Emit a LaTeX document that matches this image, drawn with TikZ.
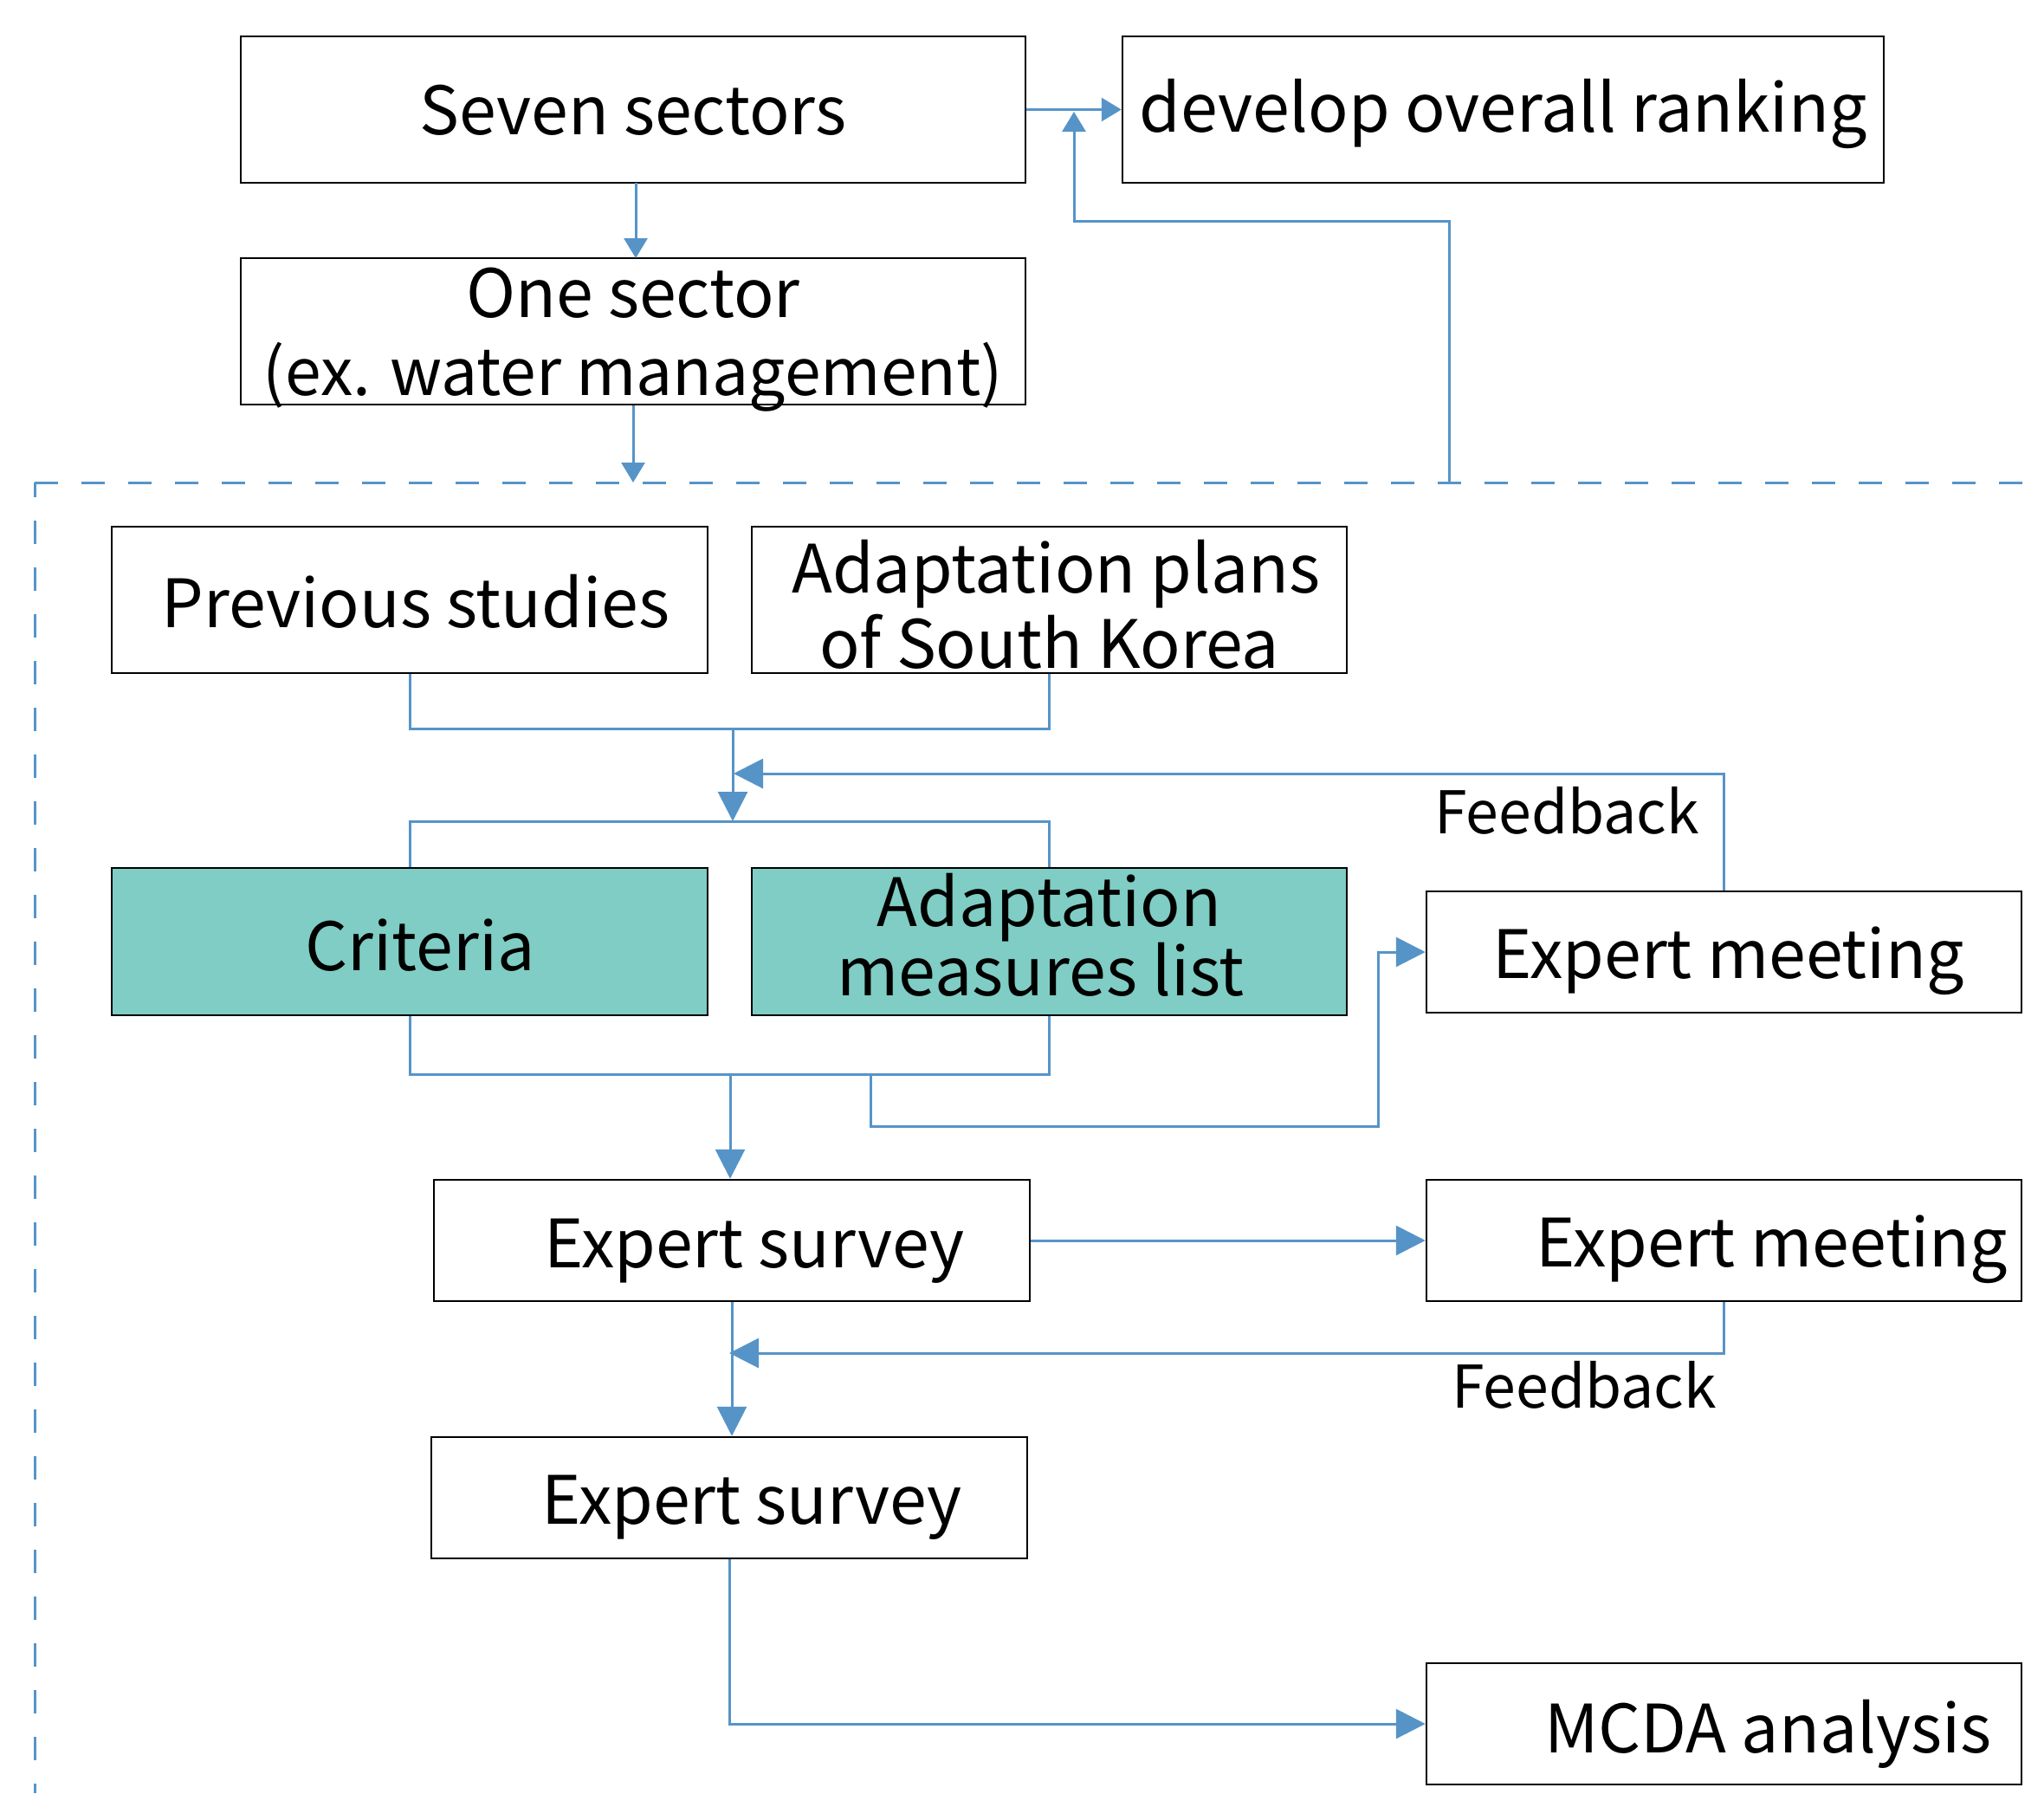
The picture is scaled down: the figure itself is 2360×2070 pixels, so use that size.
\documentclass[tikz,border=0pt]{standalone}
\usepackage{fontspec}
\setmainfont{Noto Sans CJK JP}
\usetikzlibrary{arrows.meta}

\definecolor{flowblue}{RGB}{86,148,200}
\definecolor{tealfill}{RGB}{127,205,196}

\tikzset{
  box/.style={draw=black, line width=2.5pt, fill=white, inner sep=0pt,
    minimum width=688pt, minimum height=169pt},
  lowbox/.style={box, minimum height=140pt},
  keybox/.style={box, fill=tealfill},
  boxtext/.style={inner sep=0pt, align=center, font=\fontsize{77}{78}\selectfont},
  flow/.style={draw=flowblue, line width=3pt},
  arrsmall/.style={flow, -{Triangle[length=23pt, width=27pt]}},
  arrbig/.style={flow, -{Triangle[length=34pt, width=34pt]}},
  fblabel/.style={inner sep=0pt, anchor=base, font=\fontsize{68}{68}\selectfont},
  frame/.style={draw=flowblue, line width=3pt, dash pattern=on 27pt off 27pt}
}

\begin{document}
\begin{tikzpicture}[x=1pt, y=-1pt]
  \useasboundingbox (0,0) rectangle (2360,2070);

  % sector level
  \node[box, minimum width=906pt,
    label={[boxtext, yshift=-1pt]center:Seven sectors}] (seven) at (731,126.5) {};
  \node[box, minimum width=879pt,
    label={[boxtext, yshift=-5pt]center:develop overall ranking}] (rank) at (1735.5,126.5) {};
  \node[box, minimum width=906pt,
    label={[boxtext, yshift=-10pt]center:{One sector\\[12pt]{\fontsize{75}{78}\selectfont(ex. water management)}}}] (one) at (731,382.5) {};

  % dashed frame around the per-sector procedure
  \draw[frame] (40,557) -- (2360,557);
  \draw[frame, dash phase=10pt] (40,557) -- (40,2070);
  \coordinate (dashin) at (731,557);
  \coordinate (fbtop) at (1673,557);

  % inputs
  \node[box, label={[boxtext, yshift=-2pt]center:{\hspace*{14pt}Previous studies}}] (prev) at (473,692.5) {};
  \node[box, minimum width=687pt,
    label={[boxtext, yshift=-5pt]center:{\hspace*{16pt}Adaptation plans\\[6pt]of South Korea}}] (plans) at (1211.5,692.5) {};

  % outputs of the review
  \node[keybox, minimum height=170pt,
    label={[boxtext, yshift=-4pt]center:{\hspace*{24pt}Criteria}}] (crit) at (473,1087) {};
  \node[keybox, minimum width=687pt, minimum height=170pt,
    label={[boxtext, yshift=8pt]center:{Adaptation\\[0pt]measures list\hspace*{20pt}}}] (meas) at (1211.5,1087) {};

  % expert rounds
  \node[lowbox, minimum width=687pt,
    label={[boxtext, yshift=-10pt]center:{\hspace*{10pt}Expert meeting}}] (meet1) at (1990.5,1099) {};
  \node[lowbox, label={[boxtext, yshift=-12pt]center:{\hspace*{52pt}Expert survey}}] (surv1) at (845,1432) {};
  \node[lowbox, minimum width=687pt,
    label={[boxtext, yshift=-10pt]center:{\hspace*{110pt}Expert meeting}}] (meet2) at (1990.5,1432) {};
  \node[lowbox, label={[boxtext, yshift=-11pt]center:{\hspace*{52pt}Expert survey}}] (surv2) at (842,1729) {};
  \node[lowbox, minimum width=687pt,
    label={[boxtext, yshift=-12pt]center:{\hspace*{102pt}MCDA analysis}}] (mcda) at (1990.5,1990) {};

  % junction points
  \coordinate (j1) at (846,841);
  \coordinate (j2) at (846,948);
  \coordinate (fb1) at (847,893);
  \coordinate (j3) at (843,1240);
  \coordinate (j4) at (1005,1240);
  \coordinate (fb2) at (842,1562);

  % top part
  \draw[arrsmall] (seven.east) -- (rank.west);
  \draw[arrsmall] (fbtop) -- (1673,255) -| (1240,129);
  \draw[arrsmall] (734,211) -- (734,298);
  \draw[arrsmall] (one.south) -- (dashin);

  % inputs merge
  \draw[flow] (prev.south) |- (j1) -| (plans.south);
  \draw[arrbig] (j1) -- (j2);
  \draw[arrbig] (meet1.north) |- (fb1);
  \node[fblabel] (fbl1) at (1809,962) {Feedback};

  % fan out to criteria and measures
  \draw[flow] (crit.north) |- (j2) -| (meas.north);

  % merge to survey and meeting
  \draw[flow] (crit.south) |- (j3) -| (meas.south);
  \draw[arrbig] (j3) -- (j3 |- surv1.north);
  \draw[arrbig] (j4) |- (1591,1300) |- (meet1.west);

  % survey rounds
  \draw[arrbig] (surv1.east) -- (meet2.west);
  \draw[arrbig] (meet2.south) |- (fb2);
  \node[fblabel] (fbl2) at (1829,1625) {Feedback};
  \draw[arrbig] (surv1.south) -- (surv1.south |- surv2.north);
  \draw[arrbig] (surv2.south) |- (mcda.west);
\end{tikzpicture}
\end{document}
